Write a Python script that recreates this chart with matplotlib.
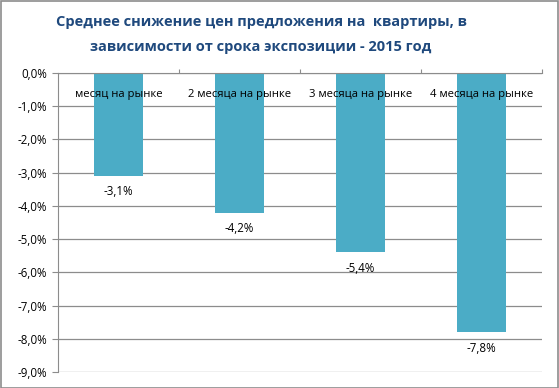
import matplotlib
matplotlib.use("Agg")
import matplotlib.pyplot as plt
from matplotlib.patches import Rectangle

plt.rcParams['font.family'] = ['Open Sans', 'DejaVu Sans']

categories = ["месяц на рынке", "2 месяца на рынке", "3 месяца на рынке", "4 месяца на рынке"]
values = [-3.1, -4.2, -5.4, -7.8]
yticks = [0, -1, -2, -3, -4, -5, -6, -7, -8, -9]

fig = plt.figure(figsize=(5.59, 3.88), dpi=100)
ax = fig.add_axes([58 / 559, 1 - 372 / 388, 484 / 559, 299 / 388])

x = list(range(len(categories)))
ax.bar(x, values, width=0.4, color="#4BACC6", zorder=3)

for xi, v in zip(x, values):
    ax.text(xi, v - 0.48, f"{v:.1f}%".replace(".", ","), ha="center", va="center",
            fontsize=8.3, color="#000000", zorder=4)
    ax.text(xi, -0.66, categories[xi], ha="center", va="center",
            fontsize=8.1, color="#000000", zorder=4)

ax.set_xlim(-0.5, len(categories) - 0.5)
ax.set_ylim(-9, 0)
ax.set_yticks(yticks)
ax.set_yticklabels([f"{t:.1f}%".replace(".", ",") for t in yticks], fontsize=8.3)
ax.grid(axis="y", color="#8C8C8C", linewidth=0.9, zorder=0)

ax.set_xticks([0.5, 1.5, 2.5, 3.5])
ax.set_xticklabels([])
ax.xaxis.tick_top()
ax.tick_params(axis="x", direction="out", length=3, color="#8C8C8C")
ax.tick_params(axis="y", direction="out", length=4, color="#8C8C8C", pad=4)

for s in ["right", "bottom"]:
    ax.spines[s].set_visible(False)
ax.spines["left"].set_color("#8C8C8C")
ax.spines["top"].set_color("#8C8C8C")
ax.spines["top"].set_zorder(5)

fig.text(261 / 559, 1 - 22 / 388, "Среднее снижение цен предложения на  квартиры, в",
         ha="center", va="center", fontsize=10.5, fontweight="bold", color="#1F497D")
fig.text(261 / 559, 1 - 47 / 388, "зависимости от срока экспозиции - 2015 год",
         ha="center", va="center", fontsize=10.5, fontweight="bold", color="#1F497D")

fig.patches.append(Rectangle((0.5 / 559, 0.5 / 388), 1 - 1.5 / 559, 1 - 1.5 / 388,
                             transform=fig.transFigure, fill=False,
                             edgecolor="#8C8C8C", linewidth=1.2))

fig.savefig("out.png", dpi=100)
